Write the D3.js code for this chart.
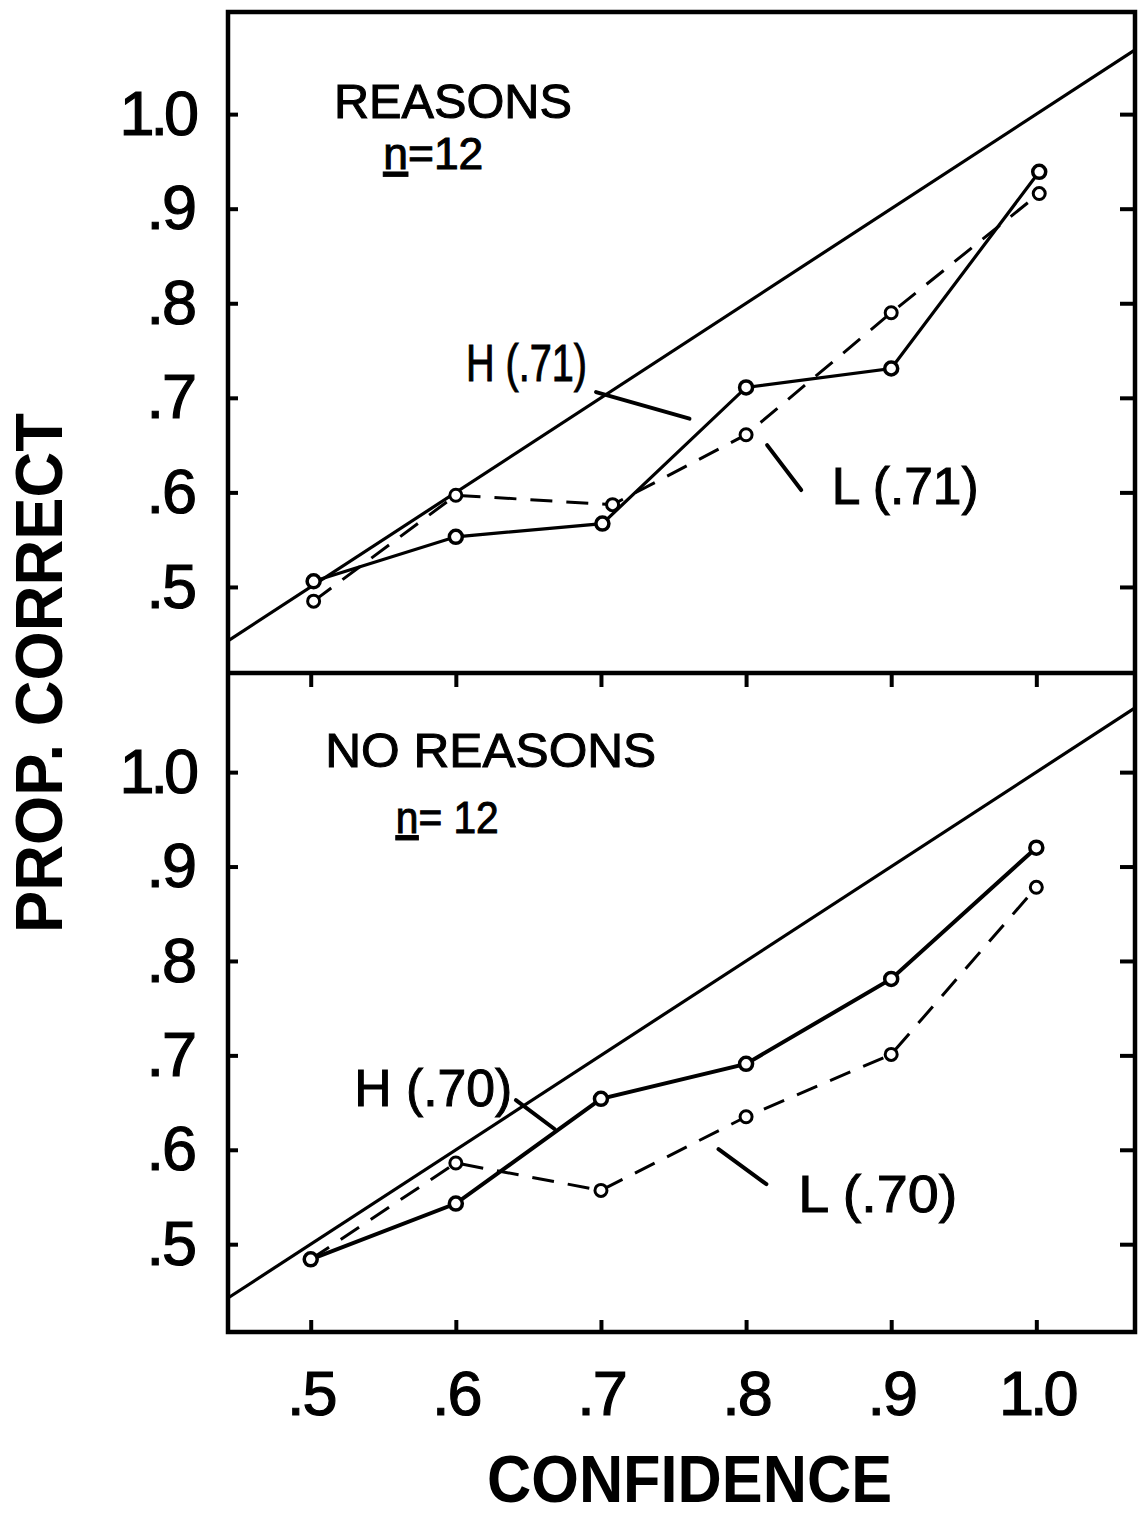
<!DOCTYPE html>
<html>
<head>
<meta charset="utf-8">
<script src="https://cdn.jsdelivr.net/npm/d3@7"></script>
<style>
  body { margin: 0; background: #fff; }
  svg { display: block; }
  text { font-family: 'Liberation Sans', Arial, sans-serif; fill: #000; }
</style>
</head>
<body>
<div id="chart"></div>
<script>
// confidence categories (x)
const confidence = [0.5, 0.6, 0.7, 0.8, 0.9, 1.0]
const tickLabels = ['.5', '.6', '.7', '.8', '.9', '1.0']

// REASONS panel
const reasonsHx = [0.502, 0.6, 0.701, 0.8, 0.9, 1.002]
const reasonsH = [0.506, 0.553, 0.567, 0.711, 0.731, 0.939]
const reasonsLx = [0.502, 0.6, 0.708, 0.8, 0.9, 1.002]
const reasonsL = [0.485, 0.597, 0.587, 0.661, 0.79, 0.916]

// NO REASONS panel
const noReasonsH = [0.484, 0.543, 0.654, 0.691, 0.781, 0.92]
const noReasonsL = [0.484, 0.586, 0.557, 0.635, 0.701, 0.878]

const width = 1141, height = 1518
const frame = { left: 228, right: 1135, top: 12, mid: 673, bottom: 1332 }

const svg = d3.select('#chart')
    .append('svg')
    .attr('width', width)
    .attr('height', height)

const xScale = d3.scaleLinear().domain([0.443, 1.068]).range([frame.left, frame.right])
const yTop = d3.scaleLinear().domain([0.409, 1.108]).range([frame.mid, frame.top])
const yBot = d3.scaleLinear().domain([0.407, 1.105]).range([frame.bottom, frame.mid])

const fmt = d => d === 1 ? '1.0' : d3.format('.1f')(d).replace('0.', '.')

function panel(yScale, opts) {
    const g = svg.append('g')

    // left axis with labels
    g.append('g')
        .attr('transform', 'translate(' + frame.left + ',0)')
        .call(d3.axisLeft(yScale).tickValues(confidence).tickSize(-10).tickPadding(33).tickFormat(fmt))
        .call(a => a.select('.domain').remove())
        .call(a => a.selectAll('line').attr('stroke', '#000').attr('stroke-width', 4))
        .call(a => a.selectAll('text')
            .attr('font-size', 63)
            .attr('font-family', "'Liberation Sans', Arial, sans-serif")
            .attr('letter-spacing', d => d === 1 ? -4 : -2)
            .attr('stroke', '#000').attr('stroke-width', 1.2))

    // right axis ticks
    g.append('g')
        .attr('transform', 'translate(' + frame.right + ',0)')
        .call(d3.axisRight(yScale).tickValues(confidence).tickSize(-15).tickFormat(''))
        .call(a => a.select('.domain').remove())
        .call(a => a.selectAll('line').attr('stroke', '#000').attr('stroke-width', 4))

    // identity diagonal
    const diag = d3.line().x(d => xScale(d)).y(d => yScale(d))
    g.append('path')
        .datum(xScale.domain())
        .attr('d', diag)
        .attr('fill', 'none')
        .attr('stroke', '#000')
        .attr('stroke-width', 3.2)

    const line = d3.line().x(d => xScale(d.x)).y(d => yScale(d.y))
    const dataL = opts.Lx.map((x, i) => ({ x: x, y: opts.L[i] }))
    const dataH = opts.Hx.map((x, i) => ({ x: x, y: opts.H[i] }))

    // dashed L line
    g.append('path')
        .datum(dataL)
        .attr('d', line)
        .attr('fill', 'none')
        .attr('stroke', '#000')
        .attr('stroke-width', 3)
        .attr('stroke-dasharray', '22,14')

    // solid H line
    g.append('path')
        .datum(dataH)
        .attr('d', line)
        .attr('fill', 'none')
        .attr('stroke', '#000')
        .attr('stroke-width', opts.hWidth)

    // open circles
    g.selectAll('.ptL')
        .data(dataL)
        .enter().append('circle')
        .attr('cx', d => xScale(d.x))
        .attr('cy', d => yScale(d.y))
        .attr('r', 6)
        .attr('fill', '#fff')
        .attr('stroke', '#000')
        .attr('stroke-width', 3)

    g.selectAll('.ptH')
        .data(dataH)
        .enter().append('circle')
        .attr('cx', d => xScale(d.x))
        .attr('cy', d => yScale(d.y))
        .attr('r', 6.5)
        .attr('fill', '#fff')
        .attr('stroke', '#000')
        .attr('stroke-width', 3.5)

    // leader lines for H and L labels
    opts.leaders.forEach(l => {
        g.append('line')
            .attr('x1', xScale(l[0])).attr('y1', yScale(l[1]))
            .attr('x2', xScale(l[2])).attr('y2', yScale(l[3]))
            .attr('stroke', '#000')
            .attr('stroke-width', 4)
            .attr('stroke-linecap', 'round')
    })

    // labels
    opts.labels.forEach(l => {
        const t = g.append('text')
            .attr('x', xScale(l.x))
            .attr('y', yScale(l.y))
            .attr('font-size', l.size)
            .attr('textLength', l.len)
            .attr('lengthAdjust', 'spacingAndGlyphs')
            .attr('stroke', '#000')
            .attr('stroke-width', 1)
        if (l.under) {
            t.append('tspan').style('text-decoration', 'underline').text(l.under)
            t.append('tspan').text(l.text)
        } else {
            t.text(l.text)
        }
    })
}

panel(yTop, {
    Hx: reasonsHx, H: reasonsH, Lx: reasonsLx, L: reasonsL, hWidth: 3.2,
    leaders: [[0.6966, 0.706, 0.761, 0.678], [0.8145, 0.650, 0.838, 0.6025]],
    labels: [
        { text: 'REASONS', x: 0.516, y: 0.996, size: 48, len: 238 },
        { under: 'n', text: '=12', x: 0.550, y: 0.942, size: 44, len: 100 },
        { text: 'H (.71)', x: 0.607, y: 0.718, size: 52, len: 121 },
        { text: 'L (.71)', x: 0.859, y: 0.588, size: 52, len: 147 }
    ]
})

panel(yBot, {
    Hx: confidence, H: noReasonsH, Lx: confidence, L: noReasonsL, hWidth: 4,
    leaders: [[0.6414, 0.6525, 0.668, 0.622], [0.781, 0.6006, 0.814, 0.5636]],
    labels: [
        { text: 'NO REASONS', x: 0.510, y: 1.005, size: 48, len: 331 },
        { under: 'n', text: '= 12', x: 0.5586, y: 0.936, size: 44, len: 103 },
        { text: 'H (.70)', x: 0.530, y: 0.646, size: 52, len: 158 },
        { text: 'L (.70)', x: 0.836, y: 0.534, size: 52, len: 159 }
    ]
})

// x axis at bottom with labels
svg.append('g')
    .attr('transform', 'translate(0,' + frame.bottom + ')')
    .call(d3.axisBottom(xScale).tickValues(confidence).tickSize(-12).tickPadding(38)
        .tickFormat((d, i) => tickLabels[i]))
    .call(a => a.select('.domain').remove())
    .call(a => a.selectAll('line').attr('stroke', '#000').attr('stroke-width', 4))
    .call(a => a.selectAll('text')
        .attr('font-size', 63)
        .attr('font-family', "'Liberation Sans', Arial, sans-serif")
        .attr('letter-spacing', d => d === 1 ? -4 : -2)
        .attr('stroke', '#000').attr('stroke-width', 1.2))

// inner ticks on top of lower panel
svg.append('g')
    .attr('transform', 'translate(0,' + frame.mid + ')')
    .call(d3.axisTop(xScale).tickValues(confidence).tickSize(-14).tickFormat(''))
    .call(a => a.select('.domain').remove())
    .call(a => a.selectAll('line').attr('stroke', '#000').attr('stroke-width', 4))

// frame and divider
svg.append('rect')
    .attr('x', frame.left).attr('y', frame.top)
    .attr('width', frame.right - frame.left).attr('height', frame.bottom - frame.top)
    .attr('fill', 'none')
    .attr('stroke', '#000')
    .attr('stroke-width', 4.5)

svg.append('line')
    .attr('x1', frame.left).attr('x2', frame.right)
    .attr('y1', frame.mid).attr('y2', frame.mid)
    .attr('stroke', '#000')
    .attr('stroke-width', 4.5)

// axis titles
svg.append('text')
    .attr('x', (frame.left + frame.right) / 2 + 8)
    .attr('y', 1502)
    .attr('text-anchor', 'middle')
    .attr('font-size', 66)
    .attr('font-weight', 'bold')
    .attr('textLength', 405)
    .attr('lengthAdjust', 'spacingAndGlyphs')
    .text('CONFIDENCE')

svg.append('text')
    .attr('transform', 'translate(62,673) rotate(-90)')
    .attr('text-anchor', 'middle')
    .attr('font-size', 66)
    .attr('font-weight', 'bold')
    .attr('textLength', 520)
    .attr('lengthAdjust', 'spacingAndGlyphs')
    .text('PROP. CORRECT')
</script>
</body>
</html>
